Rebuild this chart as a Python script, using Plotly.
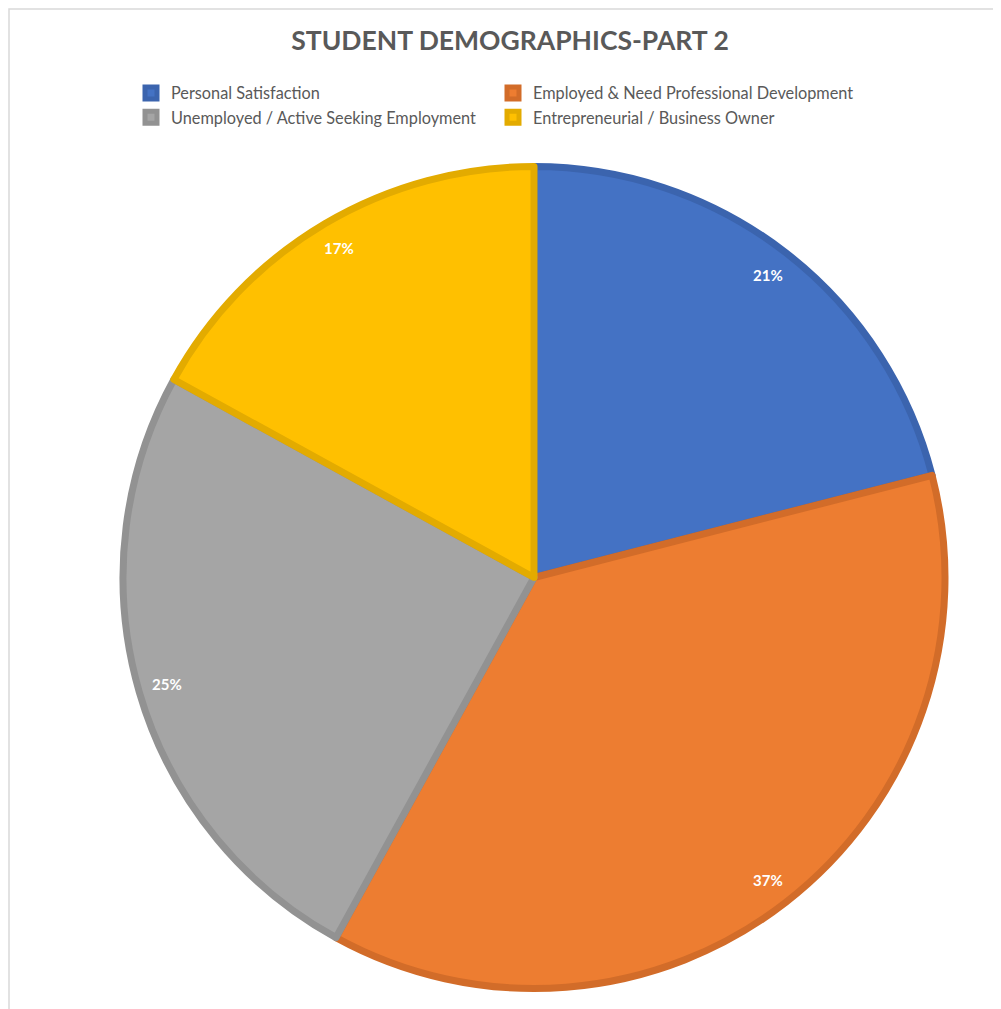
import numpy as np
import plotly.graph_objects as go

categories = ["Personal Satisfaction", "Employed & Need Professional Development",
              "Unemployed / Active Seeking Employment", "Entrepreneurial / Business Owner"]
values = [21, 37, 25, 17]
fill_colors = ["#4472C4", "#ED7D31", "#A5A5A5", "#FFC000"]
line_colors = ["#3B64AE", "#D26C29", "#929292", "#E3AB00"]

# the page body has an 8px margin, so the figure is placed at (8, 8) in the window
OFF = 8
W, H = 993, 1001
cx, cy = 534 - OFF, 577.5 - OFF   # pie centre in figure pixels
R = 411                           # pie radius in pixels
LW = 7

dom_x = [(cx - R) / W, (cx + R) / W]
dom_y = [(H - cy - R) / H, (H - cy + R) / H]

fig = go.Figure()
fig.add_trace(go.Pie(
    labels=categories, values=values, sort=False, direction="clockwise", rotation=0,
    marker=dict(colors=fill_colors, line=dict(color=line_colors, width=LW)),
    textinfo="none", hoverinfo="label+percent",
    domain=dict(x=dom_x, y=dom_y),
))

# percentage labels placed near the rim (like the original)
tot = sum(values)
cum = np.cumsum([0] + values[:-1])
for v, c in zip(values, cum):
    frac = (c + v / 2) / tot
    ang = 2 * np.pi * frac
    rr = 0.93 * R
    px = cx + rr * np.sin(ang)
    py = cy - rr * np.cos(ang)
    fig.add_annotation(x=px / W, y=1 - py / H, xref="paper", yref="paper",
                       xanchor="center", yanchor="middle",
                       text=f"<b>{round(100 * v / tot)}%</b>", showarrow=False,
                       font=dict(family="Lato", size=15, color="white"))

fig.add_shape(type="rect", xref="paper", yref="paper",
              x0=1 / W, x1=1.05, y0=-0.05, y1=1 - 1 / H,
              line=dict(color="#D9D9D9", width=1.5), fillcolor="rgba(0,0,0,0)")

fig.update_layout(
    width=W, height=H,
    margin=dict(l=0, r=0, t=0, b=0),
    paper_bgcolor="white", plot_bgcolor="white",
    title=dict(text="<b>STUDENT DEMOGRAPHICS-PART 2</b>", x=(510 - OFF) / W, xanchor="center",
               y=1 - (41 - OFF) / H, yanchor="middle",
               font=dict(family="Lato", size=26.5, color="#595959")),
    showlegend=True,
    legend=dict(orientation="h", x=(131 - OFF) / W, xanchor="left",
                y=1 - (76 - OFF) / H, yanchor="top",
                entrywidth=317, entrywidthmode="pixels",
                font=dict(family="Lato", size=16.3, color="#595959"),
                bgcolor="rgba(0,0,0,0)"),
)

fig.write_html("out.html")
